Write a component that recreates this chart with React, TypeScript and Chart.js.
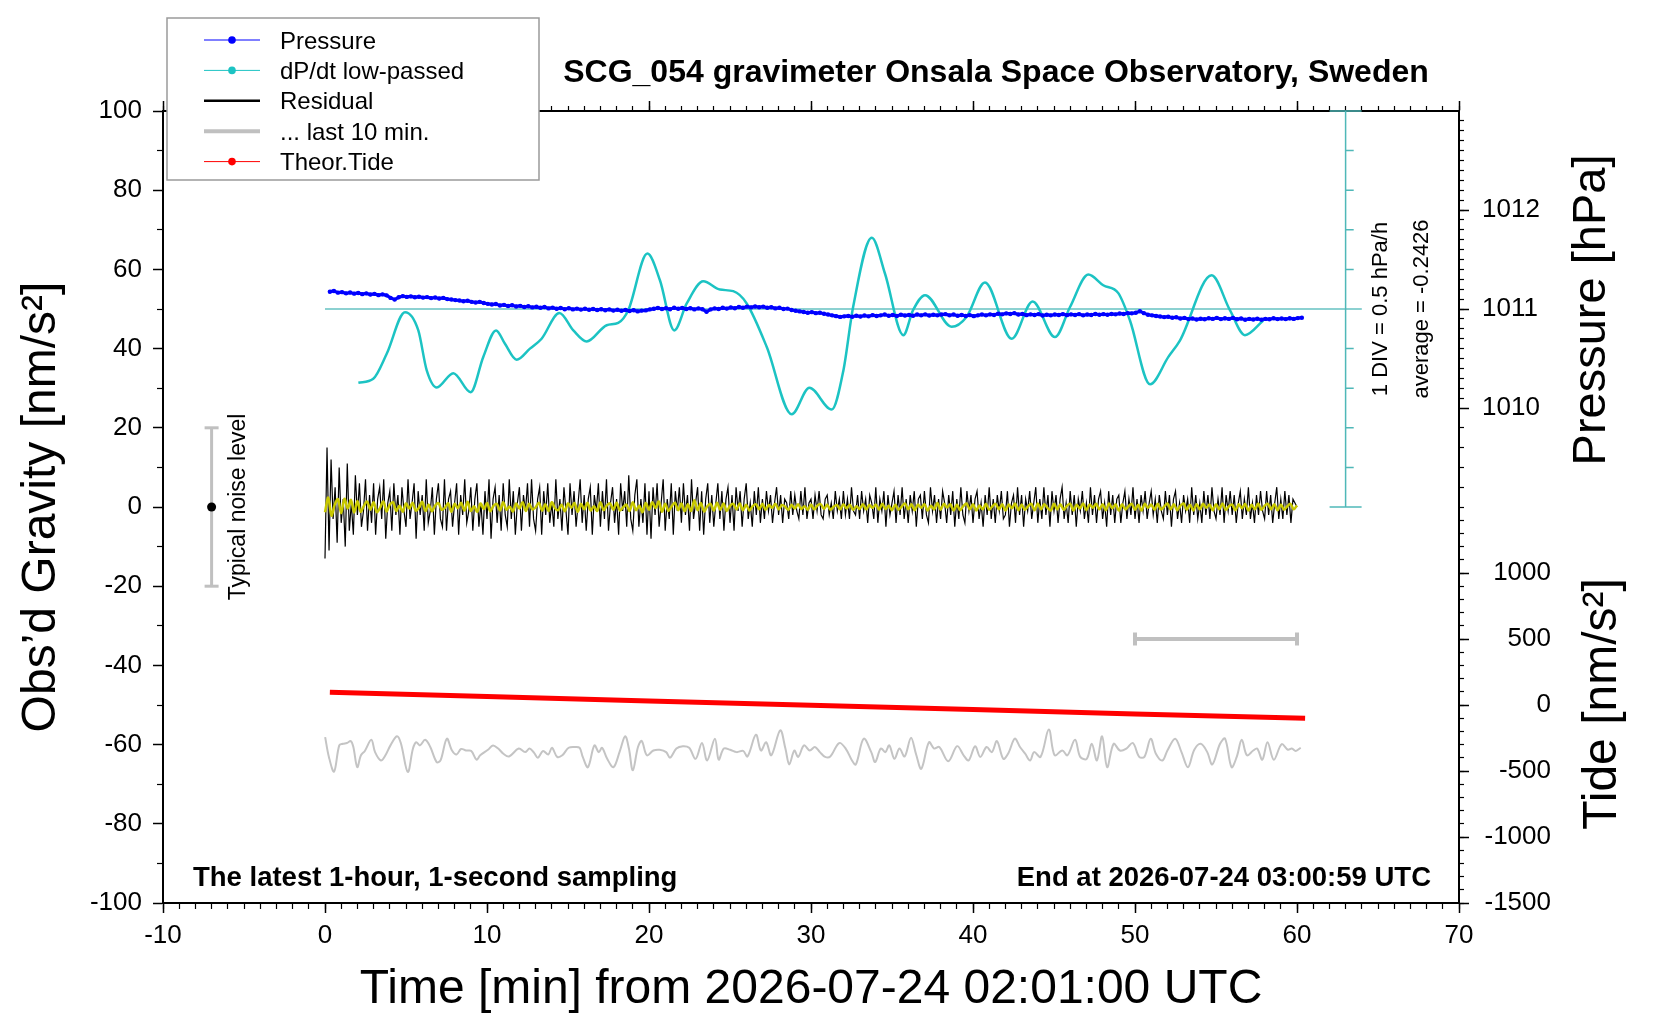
import React, { useEffect, useRef } from 'react';
import { Chart, registerables } from 'chart.js';

Chart.register(...registerables);

const FONT = '"Liberation Sans", Arial, Helvetica, sans-serif';

// time axis, minutes from 2026-07-24 02:01:00 UTC
const X_MIN = -10;
const X_MAX = 70;
const TIME_TICKS = [-10, 0, 10, 20, 30, 40, 50, 60, 70];

// gravity axis [nm/s^2]
const GRAV_MIN = -100;
const GRAV_MAX = 100;
const GRAV_TICKS = [-100, -80, -60, -40, -20, 0, 20, 40, 60, 80, 100];

// pressure axis [hPa] and tide axis [nm/s^2] on the right
const PRESS_MIN = 1005;
const PRESS_MAX = 1013;
const PRESS_TICKS = [1010, 1011, 1012];
const TIDE_MIN = -1500;
const TIDE_MAX = 4500;
const TIDE_TICKS = [-1500, -1000, -500, 0, 500, 1000];

// residual gravity, one value every 7.5 s
const RESID_STEP = 0.125;
const RESID = [
  -13, 15, -11, 12, -3, 5, -9, 10,
  -4, 2, -10, 11, -6, 1, -7, 8,
  -2, 6, -5, -1, 7, -6, 3, -4,
  6, -7, 2, 5, -3, 7, -8, 1,
  4, -6, 6, -2, 3, -7, 5, -1,
  -5, 7, -3, 1, 6, -8, 4, -2,
  3, -6, 7, -4, -1, 5, -7, 2,
  6, -3, -5, 7, -6, 2, 4, -5,
  1, 6, -7, 3, -2, 7, -4, -1,
  5, -6, 2, 6, -5, 1, -7, 4,
  -3, 7, -8, 2, 5, -4, 3, -6,
  6, -2, -5, 7, -3, 4, -7, 1,
  5, -6, 3, -1, 6, -5, 7, -3,
  -6, 2, 5, -7, 4, -2, 6, -4,
  1, -5, 7, -3, 2, -6, 5, -1,
  -7, 6, -2, 4, -5, 1, 7, -4,
  3, -6, 2, 5, -7, 3, -1, 6,
  -5, 4, -3, 7, -6, 1, 5, -4,
  2, -7, 6, -1, 4, -5, 8, -3,
  -6, 3, 7, -5, 2, -4, 6, -7,
  4, -8, 5, -2, 6, -5, 1, 7,
  -6, 2, -3, 6, -7, 4, -1, 5,
  -4, 6, -2, 3, -6, 7, -3, 1,
  5, -6, 4, -7, 2, 6, -4, 3,
  -5, 1, 6, -3, 4, -6, 2, 5,
  -4, 3, -6, 5, -1, 4, -5, 2,
  6, -3, 1, -5, 4, -2, 5, -4,
  2, -3, 4, -1, 3, -4, 1, 5,
  -2, 3, -4, 2, 1, -3, 4, -2,
  3, -1, -3, 4, -2, 5, -3, 1,
  2, -3, 3, -1, 4, -2, -3, 2,
  3, -2, 1, -3, 4, -1, 2, -3,
  4, -2, 2, -3, 5, -1, -2, 3,
  -3, 4, -1, 2, -4, 3, 1, -3,
  5, -4, 2, -1, 4, -5, 3, -2,
  1, 4, -4, 3, -2, 5, -3, 2,
  -4, 3, -1, 4, -5, 2, 3, -3,
  4, -2, -4, 5, -1, 3, -4, 2,
  -3, 4, 1, -4, 3, -2, 4, -5,
  2, -3, 5, -2, -4, 4, -1, 3,
  -4, 2, 4, -3, 1, -5, 3, -2,
  5, -3, 2, -4, 3, -1, 4, -3,
  -2, 4, -5, 1, 3, -4, 5, -2,
  3, -5, 2, -1, 4, -3, 1, 5,
  -4, 2, -3, 5, -2, 3, -5, 4,
  -1, 3, -4, 2, 5, -3, 1, -4,
  4, -2, 3, -5, 2, -1, 4, -3,
  1, -4, 5, -2, 3, -4, 2, 4,
  -3, 1, -5, 4, -2, 3, -4, 2,
  3, -4, 1, 4, -3, 2, -2, 5,
  -3, 2, -4, 3, -1, 4, -3, 1,
  4, -2, 2, -4, 3, -1, -3, 4,
  -2, 3, -5, 2, 4, -3, 1, -4,
  3, -1, 2, -4, 5, -2, 3, -3,
  1, -4, 4, -2, 3, -3, 5, -1,
  -3, 2, -2, 5, -4, 3, -1, 4,
  -2, 3, -4, 1, 4, -3, 2, -2,
  5, -3, 1, -4, 3, -2, 4, -1,
  -3, 4, -2, 3, -4, 1, 5, -3,
  2, -3, 4, -2, 3, -4, 2, 1,
  0,
];

// low-passed residual (yellow), one value every 12 s
const SMOOTH_STEP = 0.2;
const SMOOTH = [
  -1.3, 2.4, -2.2, 0.6, 2.0,
  -1.6, 2.1, -0.4, 1.8, -1.4,
  1.5, -1.2, 0.3, 1.4, -0.7,
  1.2, -1.3, -0.2, 1.4, -1.1,
  0.6, 1.2, -1.0, 0.3, -1.2,
  0.9, -0.4, 1.1, -0.9, -0.2,
  1.3, -1.0, 0.6, -1.1, 0.4,
  1.0, -0.7, -0.2, 0.9, -1.2,
  0.8, -0.3, 1.1, -0.9, 1.3,
  -1.0, 0.2, -1.2, 0.9, -0.5,
  1.0, -1.1, 0.3, 0.8, -0.9,
  1.2, -0.7, 0.1, -1.1, 0.9,
  -0.4, 1.2, -1.0, 0.8, -0.6,
  -0.1, 1.1, -0.9, 0.7, -1.0,
  1.2, -0.3, -0.8, 0.6, -1.1,
  0.9, -0.2, 1.0, -1.2, 0.8,
  -0.6, 1.1, -0.9, 0.2, -1.0,
  1.2, -0.8, 0.4, 0.9, -0.7,
  1.1, -0.9, -0.1, 0.6, -1.0,
  1.2, -0.8, 0.3, -1.3, 1.0,
  -0.7, 1.2, -0.3, 1.4, -1.2,
  0.8, -1.0, 0.2, 1.1, -0.8,
  0.9, -1.1, 0.7, -1.0, 1.7,
  -0.8, 1.0, -1.1, 0.2, 0.8,
  -0.9, 1.1, -0.7, 0.9, -1.0,
  0.3, 0.8, -0.6, 0.9, -0.8,
  0.6, -0.9, 0.2, 0.7, -0.6,
  0.8, -0.7, 0.5, -0.2, 0.8,
  -0.6, 0.5, 0.1, -0.7, 0.6,
  -0.4, 0.7, -0.5, 0.2, -0.7,
  0.6, -0.6, 0.4, 0.7, -0.5,
  0.6, -0.7, 0.1, 0.5, -0.6,
  0.7, -0.4, 0.6, -0.7, 0.2,
  -0.5, 0.7, -0.6, 0.5, -0.2,
  0.6, -0.7, 0.8, -0.5, 0.3,
  -0.8, 0.6, -0.7, 0.1, 0.9,
  -0.6, 0.7, -0.8, 0.6, -0.2,
  0.7, -0.9, 0.3, -0.6, 1.0,
  -0.7, 0.8, -0.1, 0.7, -0.9,
  0.6, -0.8, 0.2, 0.9, -0.6,
  0.7, -0.9, 0.4, -0.6, 0.8,
  -0.7, 0.2, 0.8, -0.6, 0.7,
  -0.9, 0.6, -0.3, 0.9, -0.8,
  0.6, -0.7, 0.2, 0.8, -0.8,
  0.9, -0.6, 0.7, -0.2, -0.9,
  0.8, -0.6, 0.7, -0.7, 0.3,
  0.8, -0.9, 0.6, -0.4, 0.9,
  -0.8, 0.6, -0.2, 0.8, -0.6,
  0.7, -0.8, 0.9, -0.3, 0.7,
  -0.9, 0.7, -0.6, 0.2, 0.8,
  -0.7, 0.6, -0.9, 0.8, -0.2,
  0.6, -0.7, 0.8, -0.6, 0.1,
  0.9, -0.6, 0.7, -0.8, 0.3,
  0.9, -0.7, 0.6, -0.9, 0.7,
  -0.6, 0.8, -0.2, 0.6, -0.8,
  0.7, -0.6, 0.9, -0.7, 0.2,
  0.6, -0.8, 0.7, -0.3, 0.8,
  -0.9, 0.6, -0.6, 0.9, -0.7,
  0.3, 0.8, -0.6, 0.7, -0.8,
  0.6, -0.7, 0.2, 0.8, -0.6,
  0.4,
];

// "... last 10 min." trace (gravity axis units)
const LAST10_T = [
  0.01, 0.24, 0.56, 0.88, 1.11, 1.35, 1.59, 1.75, 1.99, 2.22, 2.46, 2.86, 3.09, 3.45, 3.73,
  4.04, 4.44, 4.68, 5.11, 5.43, 5.63, 5.86, 6.18, 6.5, 6.89, 7.13, 7.52, 7.84, 8.12, 8.4,
  8.71, 9.03, 9.35, 9.58, 10.06, 10.37, 10.69, 11.01, 11.36, 11.96, 12.35, 12.63, 12.91, 13.14, 13.46,
  13.78, 14.01, 14.33, 14.65, 15.04, 15.44, 15.72, 15.91, 16.23, 16.63, 16.9, 17.1, 17.42, 17.81, 18.21,
  18.53, 18.76, 19.0, 19.32, 19.55, 19.87, 20.27, 20.66, 21.06, 21.3, 21.69, 22.09, 22.48, 22.88, 23.27,
  23.59, 24.07, 24.3, 24.62, 25.01, 25.41, 25.81, 26.08, 26.6, 26.91, 27.23, 27.55, 28.1, 28.42, 28.66,
  28.97, 29.21, 29.57, 29.92, 30.24, 30.55, 30.87, 31.19, 31.74, 32.14, 32.53, 32.77, 33.25, 33.72, 33.96,
  34.31, 34.59, 34.83, 35.15, 35.46, 35.78, 36.17, 36.49, 36.81, 37.28, 37.6, 37.92, 38.47, 39.02, 39.42,
  39.73, 40.13, 40.45, 40.84, 41.16, 41.48, 41.87, 42.19, 42.58, 42.9, 43.22, 43.53, 43.77, 44.17, 44.68,
  45.04, 45.51, 45.83, 46.3, 46.62, 47.02, 47.33, 47.65, 47.97, 48.28, 48.68, 49.07, 49.47, 49.87, 50.26,
  50.58, 50.97, 51.29, 51.69, 52.0, 52.48, 52.87, 53.27, 53.66, 54.06, 54.46, 54.77, 55.25, 55.56, 55.96,
  56.28, 56.59, 56.91, 57.3, 57.54, 57.86, 58.18, 58.57, 59.05, 59.44, 59.68, 59.92, 60.23,
];
const LAST10_V = [
  -58.1, -63.1, -66.8, -60.2, -59.8, -59.6, -59.1, -60.6, -65.7, -62.7, -61.6, -58.8, -61.9, -64.0, -62.7,
  -60.2, -57.9, -59.6, -66.9, -61.0, -59.4, -60.2, -58.8, -60.6, -64.4, -64.0, -58.5, -61.5, -62.5, -61.1,
  -61.5, -61.6, -63.8, -62.7, -61.3, -60.2, -61.0, -62.3, -63.0, -61.0, -61.9, -61.0, -62.1, -63.3, -61.6,
  -62.5, -60.8, -63.1, -62.7, -60.8, -60.6, -60.8, -63.1, -65.7, -60.2, -61.9, -60.8, -63.6, -65.7, -61.5,
  -57.9, -61.0, -66.5, -60.6, -59.1, -62.7, -61.5, -61.3, -61.9, -63.3, -61.0, -60.4, -60.8, -63.6, -59.6,
  -64.0, -58.5, -63.8, -61.0, -61.3, -61.9, -61.6, -63.0, -57.5, -61.5, -59.4, -62.7, -56.4, -61.0, -65.0,
  -61.5, -63.1, -60.2, -61.5, -60.6, -61.9, -63.1, -63.0, -59.6, -61.0, -64.0, -65.0, -58.5, -61.9, -64.4,
  -61.0, -61.9, -60.2, -63.6, -61.0, -63.0, -58.3, -62.5, -66.1, -59.4, -61.0, -60.6, -64.2, -60.4, -62.7,
  -64.0, -60.4, -63.1, -60.6, -61.9, -59.1, -63.6, -62.1, -58.5, -60.6, -62.3, -64.0, -61.9, -63.1, -56.2,
  -62.7, -61.5, -62.7, -58.8, -63.1, -63.6, -59.8, -64.0, -57.9, -65.7, -59.8, -61.5, -61.0, -59.6, -63.1,
  -63.1, -58.5, -62.3, -64.0, -61.5, -58.5, -61.9, -65.7, -61.3, -59.8, -61.9, -65.0, -59.8, -58.5, -65.7,
  -63.1, -58.8, -62.7, -61.5, -61.0, -63.8, -59.4, -63.8, -59.9, -61.3, -61.0, -61.6, -60.8,
];

// air pressure [hPa], every 15 s from t = 0.3 min
const PRESS_T0 = 0.3;
const PRESS_STEP = 0.25;
const PRESSURE = [
  1011.175, 1011.182, 1011.165, 1011.17, 1011.158, 1011.166, 1011.155, 1011.162,
  1011.15, 1011.158, 1011.146, 1011.153, 1011.14, 1011.148, 1011.138, 1011.112,
  1011.095, 1011.118, 1011.13, 1011.122, 1011.128, 1011.118, 1011.124, 1011.115,
  1011.12, 1011.11, 1011.116, 1011.106, 1011.112, 1011.1, 1011.096, 1011.09,
  1011.086, 1011.078, 1011.084, 1011.072, 1011.066, 1011.072, 1011.06, 1011.052,
  1011.046, 1011.05, 1011.036, 1011.042, 1011.03, 1011.038, 1011.026, 1011.032,
  1011.02, 1011.028, 1011.016, 1011.022, 1011.012, 1011.02, 1011.006, 1011.014,
  1011.002, 1011.01, 1010.998, 1011.008, 1010.996, 1011.004, 1010.994, 1011.002,
  1010.992, 1011.0, 1010.99, 1010.998, 1010.988, 1010.996, 1010.984, 1010.992,
  1010.982, 1010.99, 1010.98, 1010.988, 1010.976, 1010.984, 1010.986, 1010.996,
  1011.002, 1011.01, 1011.0, 1011.008, 1010.998, 1011.012, 1011.002, 1011.01,
  1011.0, 1011.008, 1010.996, 1011.006, 1010.998, 1010.972, 1010.996, 1011.006,
  1011.0, 1011.012, 1011.004, 1011.016, 1011.008, 1011.02, 1011.012, 1011.024,
  1011.016, 1011.026, 1011.018, 1011.024, 1011.012, 1011.018, 1011.006, 1011.012,
  1011.0, 1011.004, 1010.99, 1010.982, 1010.976, 1010.97, 1010.962, 1010.968,
  1010.958, 1010.962, 1010.952, 1010.944, 1010.936, 1010.928, 1010.92, 1010.926,
  1010.93, 1010.922, 1010.932, 1010.924, 1010.934, 1010.926, 1010.938, 1010.93,
  1010.936, 1010.944, 1010.932, 1010.94, 1010.93, 1010.942, 1010.934, 1010.94,
  1010.932, 1010.944, 1010.936, 1010.946, 1010.934, 1010.942, 1010.936, 1010.944,
  1010.948, 1010.936, 1010.944, 1010.932, 1010.94, 1010.93, 1010.938, 1010.928,
  1010.936, 1010.944, 1010.936, 1010.946, 1010.94, 1010.952, 1010.946, 1010.956,
  1010.95, 1010.958, 1010.944, 1010.95, 1010.938, 1010.946, 1010.94, 1010.948,
  1010.934, 1010.942, 1010.936, 1010.944, 1010.94, 1010.948, 1010.938, 1010.946,
  1010.94, 1010.948, 1010.936, 1010.944, 1010.94, 1010.95, 1010.942, 1010.948,
  1010.942, 1010.95, 1010.946, 1010.954, 1010.95, 1010.958, 1010.956, 1010.962,
  1010.978, 1010.958, 1010.942, 1010.936, 1010.93, 1010.924, 1010.918, 1010.922,
  1010.912, 1010.916, 1010.904, 1010.91, 1010.898, 1010.904, 1010.894, 1010.902,
  1010.896, 1010.906, 1010.9, 1010.91, 1010.898, 1010.906, 1010.9, 1010.91,
  1010.896, 1010.904, 1010.892, 1010.9, 1010.894, 1010.902, 1010.892, 1010.9,
  1010.896, 1010.906, 1010.898, 1010.904, 1010.898, 1010.906, 1010.9, 1010.908,
  1010.912,
];

// dP/dt low-passed, drawn in gravity-axis units (1 DIV = 10 units = 0.5 hPa/h)
const DPDT_T = [
  2.06, 2.98, 3.81, 4.94, 5.76, 6.28, 6.9, 7.92, 8.99, 9.77, 10.56, 11.1, 11.83, 12.65, 13.37,
  14.47, 15.33, 16.15, 17.39, 18.1, 18.72, 19.9, 20.68, 21.56, 22.33, 23.35, 24.38, 25.2, 26.03, 27.27,
  28.81, 29.9, 31.28, 32.0, 32.6, 33.75, 34.57, 35.7, 36.3, 37.04, 38.68, 39.6, 40.74, 42.39, 43.68,
  45.06, 45.99, 47.12, 48.04, 48.97, 49.69, 50.93, 52.06, 52.78, 54.73, 55.86, 56.79, 57.92,
];
const DPDT_V = [
  31.4, 32.4, 38.7, 49.2, 44.6, 34.5, 30.2, 33.8, 29.0, 37.9, 44.6, 41.3, 37.2, 40.0, 42.5,
  49.0, 44.6, 41.8, 45.9, 46.5, 49.7, 64.0, 57.2, 44.6, 51.4, 57.0, 54.9, 54.5, 51.4, 40.4,
  23.4, 30.1, 24.6, 34.5, 50.5, 68.0, 58.9, 43.4, 49.7, 53.5, 45.5, 48.0, 56.7, 42.5, 51.9,
  42.9, 50.5, 58.7, 56.0, 54.0, 47.1, 31.0, 37.9, 42.1, 58.5, 49.7, 43.4, 47.1,
];
const DPDT_AVG = '-0.2426';

// dP/dt scale bar: position, centre level and divisions (gravity-axis units)
const DPDT_AXIS_T = 63;
const DPDT_CENTER = 50;
const DPDT_DIVS = [10, 20, 30, 40, 60, 70, 80, 90];
const DPDT_RANGE = [0, 100];

// theoretical tide [nm/s^2]
const TIDE_T = [0.3, 10, 20, 30, 40, 50, 60.5];
const TIDE_V = [96, 64, 31, -2, -35, -68, -101];

// typical noise level marker
const NOISE_T = -7;
const NOISE_LEVEL = 20;

// last-10-min span marker, on the tide axis
const LAST10_SPAN = [50, 60];
const LAST10_LEVEL = 500;

const range = (a: number, b: number, s: number) => {
  const out: number[] = [];
  for (let v = a; v <= b + 1e-9; v += s) out.push(Math.round(v * 1000) / 1000);
  return out;
};

const TIME_MINOR = range(X_MIN, X_MAX, 1);
const GRAV_MINOR = range(-90, 90, 20);
const PRESS_MINOR = [...range(1009.2, 1009.8, 0.2), ...range(1010.1, 1012.9, 0.1)];
const TIDE_MINOR = range(-1500, 1500, 100);

const LEGEND = [
  { label: 'Pressure', color: '#0000ff', width: 1, dot: true },
  { label: 'dP/dt low-passed', color: '#1cc3c3', width: 1, dot: true },
  { label: 'Residual', color: '#000000', width: 2.5, dot: false },
  { label: '... last 10 min.', color: '#c0c0c0', width: 4, dot: false },
  { label: 'Theor.Tide', color: '#ff0000', width: 1, dot: true },
];

const setTicks = (vals: number[]) => (s: any) => {
  s.ticks = vals.map((value) => ({ value }));
};

const majorGrid = { display: true, drawOnChartArea: false, drawTicks: true, tickLength: 10, tickColor: '#000', tickWidth: 1.5 };
const minorGrid = { display: true, drawOnChartArea: false, drawTicks: true, tickLength: 6, tickColor: '#000', tickWidth: 1.2 };
const tickFont = { family: FONT, size: 26 };

function minorScale(axis: 'x' | 'y', position: string, min: number, max: number, vals: number[], weight: number) {
  return {
    type: 'linear',
    axis,
    position,
    min,
    max,
    weight,
    afterBuildTicks: setTicks(vals),
    ticks: { display: false },
    grid: minorGrid,
    border: { display: false },
    afterFit: (s: any) => {
      if (axis === 'x') s.height = 0;
      else s.width = 0;
    },
  };
}

function vText(ctx: CanvasRenderingContext2D, text: string, x: number, y: number, font: string) {
  ctx.save();
  ctx.translate(x, y);
  ctx.rotate(-Math.PI / 2);
  ctx.font = font;
  ctx.textAlign = 'center';
  ctx.textBaseline = 'alphabetic';
  ctx.fillText(text, 0, 0);
  ctx.restore();
}

const labelsPlugin = {
  id: 'gravLabels',
  // right-hand axes take no layout room; widen them afterwards so their labels are not clipped
  afterLayout(chart: any) {
    const press = chart.scales.press;
    press.right = chart.width;
    press.width = press.right - press.left;
    const tide = chart.scales.tide;
    tide.right = tide.left + 92;
    tide.width = 92;
  },
  afterDraw(chart: any) {
    const { ctx, chartArea, scales } = chart;
    const xs = scales.x;
    const ys = scales.y;
    ctx.save();
    ctx.fillStyle = '#000';

    // title
    ctx.font = `bold 32px ${FONT}`;
    ctx.textAlign = 'center';
    ctx.textBaseline = 'alphabetic';
    ctx.fillText('SCG_054 gravimeter Onsala Space Observatory, Sweden', 996, 82);

    // corner notes
    ctx.font = `bold 27.5px ${FONT}`;
    ctx.textAlign = 'left';
    ctx.fillText('The latest 1-hour, 1-second sampling', chartArea.left + 30, chartArea.bottom - 17);
    ctx.textAlign = 'right';
    ctx.fillText('End at 2026-07-24 03:00:59 UTC', chartArea.right - 28, chartArea.bottom - 17);

    // right axis titles
    vText(ctx, 'Pressure [hPa]', 1605, 310, `47px ${FONT}`);
    vText(ctx, 'Tide [nm/s²]', 1616, 704, `48px ${FONT}`);

    // dP/dt scale notes
    const yc = ys.getPixelForValue(DPDT_CENTER);
    const xa = xs.getPixelForValue(DPDT_AXIS_T);
    vText(ctx, '1 DIV = 0.5 hPa/h', xa + 41, yc, `22px ${FONT}`);
    vText(ctx, `average = ${DPDT_AVG}`, xa + 82, yc, `22px ${FONT}`);

    // noise note
    vText(ctx, 'Typical noise level', xs.getPixelForValue(NOISE_T) + 33, ys.getPixelForValue(0), `23px ${FONT}`);

    // legend box
    const lx = 167, ly = 18, lw = 372, lh = 162;
    ctx.fillStyle = '#fff';
    ctx.fillRect(lx, ly, lw, lh);
    ctx.strokeStyle = '#9a9a9a';
    ctx.lineWidth = 1.5;
    ctx.strokeRect(lx, ly, lw, lh);
    LEGEND.forEach((it, i) => {
      const y = 40 + i * 30.4;
      ctx.strokeStyle = it.color;
      ctx.lineWidth = it.width;
      ctx.beginPath();
      ctx.moveTo(204, y);
      ctx.lineTo(260, y);
      ctx.stroke();
      if (it.dot) {
        ctx.fillStyle = it.color;
        ctx.beginPath();
        ctx.arc(232, y, 3.8, 0, Math.PI * 2);
        ctx.fill();
      }
      ctx.fillStyle = '#000';
      ctx.font = `24px ${FONT}`;
      ctx.textAlign = 'left';
      ctx.textBaseline = 'alphabetic';
      ctx.fillText(it.label, 280, y + 8.5);
    });
    ctx.restore();
  },
};

const App: React.FC = () => {
  const canvasRef = useRef<HTMLCanvasElement>(null);

  useEffect(() => {
    if (!canvasRef.current) return;
    const ctx = canvasRef.current.getContext('2d');
    if (!ctx) return;

    const residual = RESID.map((v, i) => ({ x: i * RESID_STEP, y: v }));
    const smooth = SMOOTH.map((v, i) => ({ x: i * SMOOTH_STEP, y: v }));
    const last10 = LAST10_T.map((t, i) => ({ x: t, y: LAST10_V[i] }));
    const pressure = PRESSURE.map((v, i) => ({ x: PRESS_T0 + i * PRESS_STEP, y: v }));
    const dpdt = DPDT_T.map((t, i) => ({ x: t, y: DPDT_V[i] }));
    const tide = TIDE_T.map((t, i) => ({ x: t, y: TIDE_V[i] }));
    const divTicks: any[] = [];
    DPDT_DIVS.forEach((v) => {
      divTicks.push({ x: DPDT_AXIS_T, y: v }, { x: DPDT_AXIS_T + 0.5, y: v }, { x: DPDT_AXIS_T + 0.6, y: null });
    });

    const chart = new Chart(ctx, {
      type: 'line',
      data: {
        datasets: [
          {
            label: 'centre', data: [{ x: 0, y: DPDT_CENTER }, { x: DPDT_AXIS_T + 1, y: DPDT_CENTER }],
            borderColor: '#66c2c2', borderWidth: 1.5, order: 9, yAxisID: 'y', xAxisID: 'x',
          },
          {
            label: 'Residual', data: residual, borderColor: '#000', borderWidth: 1.2,
            order: 7, yAxisID: 'y', xAxisID: 'x',
          },
          {
            label: 'smooth', data: smooth, borderColor: '#c8c800', borderWidth: 2.5, tension: 0.3,
            order: 6, yAxisID: 'y', xAxisID: 'x',
          },
          {
            label: '... last 10 min.', data: last10, borderColor: '#c4c4c4', borderWidth: 2, tension: 0.35,
            order: 7, yAxisID: 'y', xAxisID: 'x',
          },
          {
            label: 'Theor.Tide', data: tide, borderColor: '#ff0000', borderWidth: 5,
            order: 5, yAxisID: 'tide', xAxisID: 'x',
          },
          {
            label: 'dP/dt low-passed', data: dpdt, borderColor: '#1cc3c3', borderWidth: 2.5,
            cubicInterpolationMode: 'monotone', order: 4, yAxisID: 'y', xAxisID: 'x',
          },
          {
            label: 'Pressure', data: pressure, borderColor: '#0000ff', borderWidth: 3.2,
            pointRadius: 2.2, pointBackgroundColor: '#0000ff', pointBorderWidth: 0,
            order: 3, yAxisID: 'press', xAxisID: 'x',
          },
          {
            label: 'dpdt axis', data: DPDT_RANGE.map((v) => ({ x: DPDT_AXIS_T, y: v })),
            borderColor: '#4fb8b8', borderWidth: 1.5, pointStyle: 'line', pointRadius: 16,
            pointBorderColor: '#4fb8b8', pointBorderWidth: 1.5, clip: false,
            order: 2, yAxisID: 'y', xAxisID: 'x',
          },
          {
            label: 'dpdt divs', data: divTicks, borderColor: '#4fb8b8', borderWidth: 1.5,
            spanGaps: false, order: 2, yAxisID: 'y', xAxisID: 'x',
          },
          {
            label: 'noise', data: [{ x: NOISE_T, y: -NOISE_LEVEL }, { x: NOISE_T, y: NOISE_LEVEL }],
            borderColor: '#c0c0c0', borderWidth: 3, pointStyle: 'line', pointRadius: 7,
            pointBorderColor: '#c0c0c0', pointBorderWidth: 3, order: 2, yAxisID: 'y', xAxisID: 'x',
          },
          {
            label: 'noise mean', data: [{ x: NOISE_T, y: 0 }], showLine: false,
            pointRadius: 4.5, pointBackgroundColor: '#000', pointBorderWidth: 0,
            order: 1, yAxisID: 'y', xAxisID: 'x',
          },
          {
            label: 'last 10 span', data: LAST10_SPAN.map((t) => ({ x: t, y: LAST10_LEVEL })),
            borderColor: '#c0c0c0', borderWidth: 4, pointStyle: 'line', pointRadius: 6.5,
            pointRotation: 90, pointBorderColor: '#c0c0c0', pointBorderWidth: 4,
            order: 2, yAxisID: 'tide', xAxisID: 'x',
          },
        ] as any,
      },
      options: {
        responsive: false,
        animation: false,
        events: [],
        layout: { padding: { top: 111, right: 201, bottom: 0, left: 0 } },
        elements: { point: { radius: 0 }, line: { tension: 0 } },
        plugins: { legend: { display: false }, tooltip: { enabled: false }, title: { display: false } },
        scales: {
          x: {
            type: 'linear', axis: 'x', position: 'bottom', min: X_MIN, max: X_MAX, weight: 1,
            afterBuildTicks: setTicks(TIME_TICKS),
            ticks: { font: tickFont, color: '#000', padding: 7, autoSkip: false, maxRotation: 0, callback: (v: any) => String(v) },
            grid: majorGrid,
            border: { display: true, color: '#000', width: 2 },
            title: {
              display: true, text: 'Time [min] from 2026-07-24 02:01:00 UTC', color: '#000',
              font: { family: FONT, size: 48 }, padding: { top: 0, bottom: 1 },
            },
            afterFit: (s: any) => { s.height = 117; },
          },
          xMinor: minorScale('x', 'bottom', X_MIN, X_MAX, TIME_MINOR, 0),
          xTop: {
            type: 'linear', axis: 'x', position: 'top', min: X_MIN, max: X_MAX, weight: 1,
            afterBuildTicks: setTicks(TIME_TICKS),
            ticks: { display: false },
            grid: majorGrid,
            border: { display: true, color: '#000', width: 2 },
            afterFit: (s: any) => { s.height = 0; },
          },
          xTopMinor: { ...minorScale('x', 'top', X_MIN, X_MAX, TIME_MINOR, 0), grid: { ...minorGrid, tickLength: 5 } },
          y: {
            type: 'linear', axis: 'y', position: 'left', min: GRAV_MIN, max: GRAV_MAX, weight: 1,
            afterBuildTicks: setTicks(GRAV_TICKS),
            ticks: { font: tickFont, color: '#000', padding: 11, callback: (v: any) => String(v) },
            grid: majorGrid,
            border: { display: true, color: '#000', width: 2 },
            title: {
              display: true, text: 'Obs’d Gravity [nm/s²]', color: '#000',
              font: { family: FONT, size: 48 }, padding: { top: 13, bottom: 0 },
            },
            afterFit: (s: any) => { s.width = 163; },
          },
          yMinor: minorScale('y', 'left', GRAV_MIN, GRAV_MAX, GRAV_MINOR, 0),
          pressMinor: { ...minorScale('y', 'right', PRESS_MIN, PRESS_MAX, PRESS_MINOR, 0), grid: { ...minorGrid, tickLength: 5 } },
          tideMinor: { ...minorScale('y', 'right', TIDE_MIN, TIDE_MAX, TIDE_MINOR, 1), grid: { ...minorGrid, tickLength: 5 } },
          press: {
            type: 'linear', axis: 'y', position: 'right', min: PRESS_MIN, max: PRESS_MAX, weight: 2,
            afterBuildTicks: setTicks(PRESS_TICKS),
            ticks: { font: tickFont, color: '#000', padding: 13, callback: (v: any) => String(v) },
            grid: majorGrid,
            border: { display: true, color: '#000', width: 2 },
            afterFit: (s: any) => { s.width = 0; },
          },
          tide: {
            type: 'linear', axis: 'y', position: 'right', min: TIDE_MIN, max: TIDE_MAX, weight: 3,
            afterBuildTicks: setTicks(TIDE_TICKS),
            ticks: { font: tickFont, color: '#000', padding: 14, crossAlign: 'far', callback: (v: any) => String(v) },
            grid: majorGrid,
            border: { display: false },
            afterFit: (s: any) => { s.width = 0; },
          },
        } as any,
      },
      plugins: [labelsPlugin],
    });

    return () => {
      chart.destroy();
    };
  }, []);

  return (
    <div style={{ position: 'absolute', left: 0, top: 0, width: 1660, height: 1020, background: '#fff' }}>
      <canvas ref={canvasRef} width={1660} height={1020} />
    </div>
  );
};

export default App;
